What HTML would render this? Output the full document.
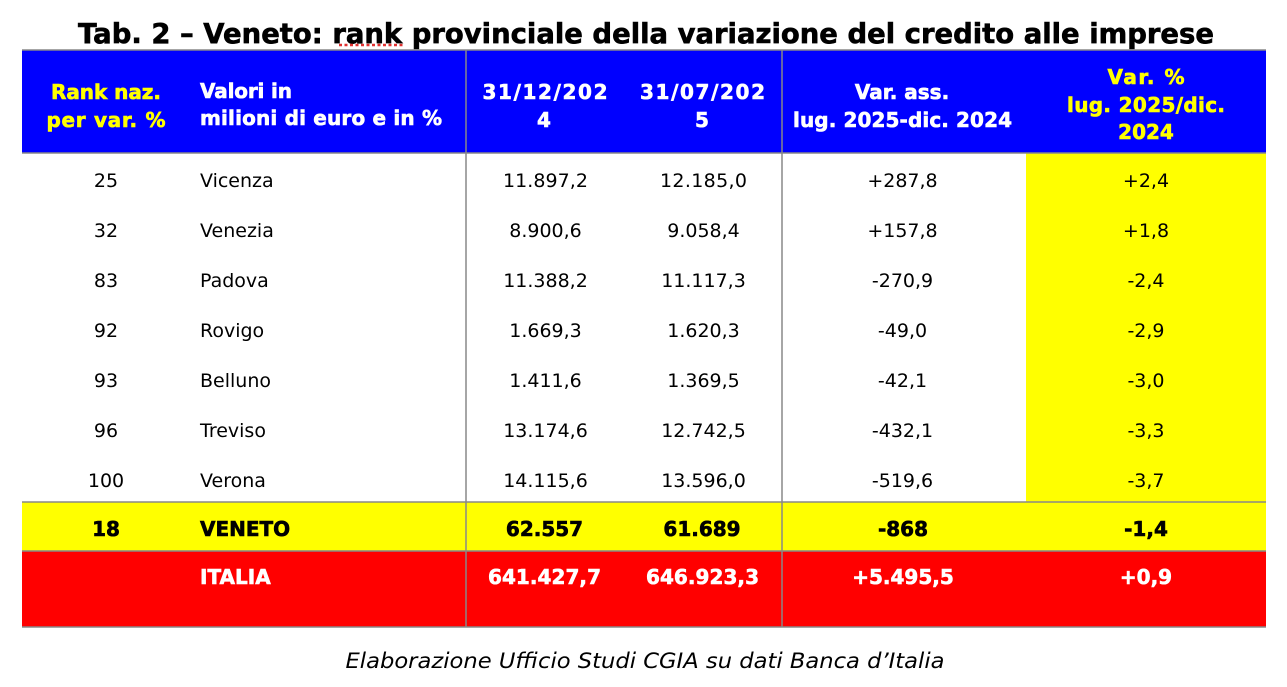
<!DOCTYPE html>
<html>
<head>
<meta charset="utf-8">
<style>
html,body{margin:0;padding:0;background:#fff;}
svg{display:block;}
text{font-family:"DejaVu Sans","Liberation Sans",sans-serif;}
.h{font-weight:bold;font-size:20px;stroke-width:0.6;}
.d{font-size:19px;fill:#000;}
.b{font-weight:bold;font-size:20px;stroke-width:0.6;}
</style>
</head>
<body>
<svg width="1287" height="687" viewBox="0 0 1287 687" xmlns="http://www.w3.org/2000/svg">
<rect x="0" y="0" width="1287" height="687" fill="#fff"/>
<!-- Title -->
<text x="646" y="43" text-anchor="middle" font-weight="bold" font-size="27.3" fill="#000" stroke="#000" stroke-width="0.6" textLength="1136" lengthAdjust="spacingAndGlyphs">Tab. 2 – Veneto: rank provinciale della variazione del credito alle imprese</text>
<line x1="339" y1="45" x2="405" y2="45" stroke="#e03030" stroke-width="2.5" stroke-dasharray="3,2.5"/>

<!-- Header -->
<rect x="22" y="50" width="1244" height="103" fill="#0000ff"/>
<!-- Yellow column -->
<rect x="1026" y="153" width="240" height="349" fill="#ffff00"/>
<!-- Veneto row -->
<rect x="22" y="502" width="1244" height="49" fill="#ffff00"/>
<!-- Italia row -->
<rect x="22" y="551" width="1244" height="76" fill="#ff0000"/>

<!-- Lines -->
<g stroke="#888" stroke-width="1.5">
<line x1="22" y1="50" x2="1266" y2="50"/>
<line x1="22" y1="153" x2="1266" y2="153"/>
<line x1="22" y1="502" x2="1266" y2="502"/>
<line x1="22" y1="551" x2="1266" y2="551"/>
<line x1="22" y1="627" x2="1266" y2="627"/>
<line x1="466" y1="50" x2="466" y2="627"/>
<line x1="782" y1="50" x2="782" y2="627"/>
</g>

<!-- Header text -->
<g class="h">
<text x="106" y="99" text-anchor="middle" fill="#ffff00" stroke="#ffff00" textLength="110">Rank naz.</text>
<text x="106" y="127" text-anchor="middle" fill="#ffff00" stroke="#ffff00" textLength="119">per var. %</text>
<text x="200" y="98" fill="#fff" stroke="#fff" textLength="92">Valori in</text>
<text x="200" y="125" fill="#fff" stroke="#fff" textLength="242">milioni di euro e in %</text>
<text x="545" y="99" text-anchor="middle" fill="#fff" stroke="#fff" textLength="125">31/12/202</text>
<text x="544" y="127" text-anchor="middle" fill="#fff" stroke="#fff">4</text>
<text x="702.5" y="99" text-anchor="middle" fill="#fff" stroke="#fff" textLength="125">31/07/202</text>
<text x="702" y="127" text-anchor="middle" fill="#fff" stroke="#fff">5</text>
<text x="902" y="99" text-anchor="middle" fill="#fff" stroke="#fff">Var. ass.</text>
<text x="902.5" y="127" text-anchor="middle" fill="#fff" stroke="#fff" textLength="219">lug. 2025-dic. 2024</text>
<text x="1146" y="84" text-anchor="middle" fill="#ffff00" stroke="#ffff00" textLength="77">Var. %</text>
<text x="1146" y="112" text-anchor="middle" fill="#ffff00" stroke="#ffff00" textLength="158">lug. 2025/dic.</text>
<text x="1146" y="139" text-anchor="middle" fill="#ffff00" stroke="#ffff00">2024</text>
</g>

<!-- Data rows -->
<g class="d">
<text x="106" y="187" text-anchor="middle">25</text>
<text x="200" y="187">Vicenza</text>
<text x="545.5" y="187" text-anchor="middle" textLength="85">11.897,2</text>
<text x="703.5" y="187" text-anchor="middle" textLength="87">12.185,0</text>
<text x="902.5" y="187" text-anchor="middle">+287,8</text>
<text x="1146" y="187" text-anchor="middle">+2,4</text>

<text x="106" y="237" text-anchor="middle">32</text>
<text x="200" y="237">Venezia</text>
<text x="545.5" y="237" text-anchor="middle">8.900,6</text>
<text x="703.5" y="237" text-anchor="middle">9.058,4</text>
<text x="902.5" y="237" text-anchor="middle">+157,8</text>
<text x="1146" y="237" text-anchor="middle">+1,8</text>

<text x="106" y="287" text-anchor="middle">83</text>
<text x="200" y="287">Padova</text>
<text x="545.5" y="287" text-anchor="middle">11.388,2</text>
<text x="703.5" y="287" text-anchor="middle">11.117,3</text>
<text x="902.5" y="287" text-anchor="middle">-270,9</text>
<text x="1146" y="287" text-anchor="middle">-2,4</text>

<text x="106" y="337" text-anchor="middle">92</text>
<text x="200" y="337">Rovigo</text>
<text x="545.5" y="337" text-anchor="middle">1.669,3</text>
<text x="703.5" y="337" text-anchor="middle">1.620,3</text>
<text x="902.5" y="337" text-anchor="middle">-49,0</text>
<text x="1146" y="337" text-anchor="middle">-2,9</text>

<text x="106" y="387" text-anchor="middle">93</text>
<text x="200" y="387">Belluno</text>
<text x="545.5" y="387" text-anchor="middle">1.411,6</text>
<text x="703.5" y="387" text-anchor="middle">1.369,5</text>
<text x="902.5" y="387" text-anchor="middle">-42,1</text>
<text x="1146" y="387" text-anchor="middle">-3,0</text>

<text x="106" y="437" text-anchor="middle">96</text>
<text x="200" y="437">Treviso</text>
<text x="545.5" y="437" text-anchor="middle">13.174,6</text>
<text x="703.5" y="437" text-anchor="middle">12.742,5</text>
<text x="902.5" y="437" text-anchor="middle">-432,1</text>
<text x="1146" y="437" text-anchor="middle">-3,3</text>

<text x="106" y="487" text-anchor="middle">100</text>
<text x="200" y="487">Verona</text>
<text x="545.5" y="487" text-anchor="middle">14.115,6</text>
<text x="703.5" y="487" text-anchor="middle">13.596,0</text>
<text x="902.5" y="487" text-anchor="middle">-519,6</text>
<text x="1146" y="487" text-anchor="middle">-3,7</text>
</g>

<!-- Veneto -->
<g class="b" fill="#000" stroke="#000">
<text x="106" y="536" text-anchor="middle">18</text>
<text x="200" y="536">VENETO</text>
<text x="544.5" y="536" text-anchor="middle">62.557</text>
<text x="702" y="536" text-anchor="middle">61.689</text>
<text x="903" y="536" text-anchor="middle">-868</text>
<text x="1146" y="536" text-anchor="middle">-1,4</text>
</g>

<!-- Italia -->
<g class="b" fill="#fff" stroke="#fff">
<text x="200" y="584">ITALIA</text>
<text x="544.5" y="584" text-anchor="middle" textLength="113">641.427,7</text>
<text x="702.5" y="584" text-anchor="middle" textLength="113">646.923,3</text>
<text x="903" y="584" text-anchor="middle">+5.495,5</text>
<text x="1146" y="584" text-anchor="middle">+0,9</text>
</g>

<!-- Footer -->
<text x="645" y="668" text-anchor="middle" font-style="italic" font-size="21" fill="#000" textLength="599" lengthAdjust="spacingAndGlyphs">Elaborazione Ufficio Studi CGIA su dati Banca d’Italia</text>
</svg>
</body>
</html>
